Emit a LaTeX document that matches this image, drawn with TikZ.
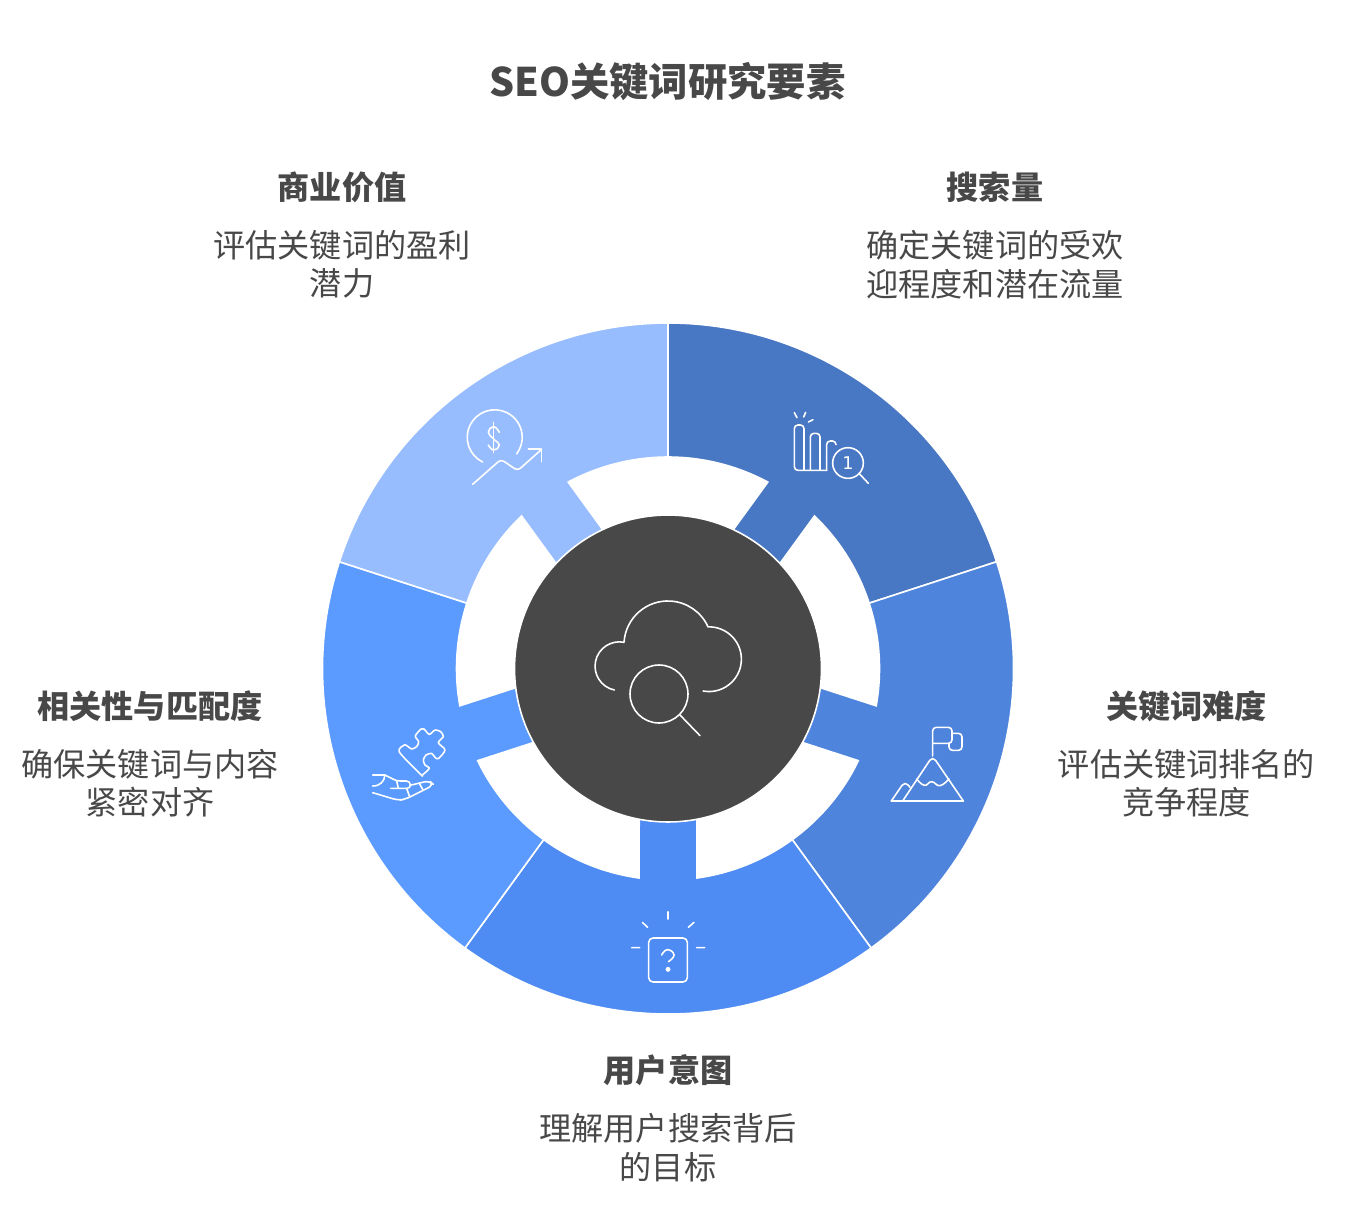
\documentclass[tikz,border=0pt]{standalone}
\usepackage{fontspec}
\setmainfont{Noto Sans CJK SC}
\newfontfamily\digitfont{DejaVu Sans}
\usetikzlibrary{calc,positioning}
\definecolor{coreGray}{HTML}{484848}
\definecolor{blueA}{HTML}{4877C3}
\definecolor{blueB}{HTML}{4F84DC}
\definecolor{blueC}{HTML}{4E8BF2}
\definecolor{blueD}{HTML}{5B9AFF}
\definecolor{blueE}{HTML}{97BDFF}

\begin{document}
\begin{tikzpicture}
    \tikzset{x=0.02cm,y=-0.02cm,
      title style/.style={text=coreGray,font=\fontsize{22.4}{26}\selectfont\bfseries},
      head style/.style={text=coreGray,font=\fontsize{18.3}{22}\selectfont\bfseries},
      desc style/.style={text=coreGray,align=center,font=\fontsize{18.3}{21.9}\selectfont},
      icon/.style={draw=white,line width=0.9,line cap=round,line join=round},
      zoomed/.style={x=0.02cm/3,y=-0.02cm/3},
      sector/.pic={
        \draw[y=0.02cm,draw=white,line width=0.9,fill=#1]
          (36:345.5) arc[start angle=36,end angle=-36,radius=6.91cm]
          -- (-36:211.5) arc[start angle=-36,end angle=-7.83,radius=4.23cm]
          -- (-10.85:153) -- (10.85:153)
          -- (7.83:211.5) arc[start angle=7.83,end angle=36,radius=4.23cm] -- cycle;
      }}
    \useasboundingbox (0,0) rectangle (1358,1204);
    \coordinate (C) at (668,668.5);
    \pic[rotate=54] at (C) {sector=blueA};
    \pic[rotate=-18] at (C) {sector=blueB};
    \pic[rotate=-90] at (C) {sector=blueC};
    \pic[rotate=-162] at (C) {sector=blueD};
    \pic[rotate=126] at (C) {sector=blueE};
    \node [circle,inner sep=0,minimum size=6.14cm,fill=coreGray,draw=white,line width=0.9] (core) at (C) {};

    \node [title style] (title) at (667.5,82) {SEO关键词研究要素};
    \node [head style] (valueHead) at (342,187.5) {商业价值};
    \node [desc style] (valueText) at (342,264.5) {评估关键词的盈利\\潜力};
    \node [head style] (volumeHead) at (995,187.5) {搜索量};
    \node [desc style] (volumeText) at (995,264.5) {确定关键词的受欢\\迎程度和潜在流量};
    \node [head style] (hardHead) at (1186.5,706.5) {关键词难度};
    \node [desc style] (hardText) at (1186.5,783) {评估关键词排名的\\竞争程度};
    \node [head style] (matchHead) at (150,706.5) {相关性与匹配度};
    \node [desc style] (matchText) at (150,783) {确保关键词与内容\\紧密对齐};
    \node [head style] (intentHead) at (668,1070.5) {用户意图};
    \node [desc style] (intentText) at (668,1147.5) {理解用户搜索背后\\的目标};

    % cloud and lens
    \begin{scope}[shift={(570,580)},zoomed]
      \draw[icon] (133,330) arc[start angle=258,end angle=79,radius=0.487cm]
        arc[start angle=176.5,end angle=24.3,radius=0.88cm]
        arc[start angle=91.8,end angle=-100.6,radius=0.647cm];
      \draw[icon] (267,342) circle[radius=0.58cm];
      \draw[icon] (330,405) -- (390,467);
    \end{scope}

    % coin and trend
    \begin{scope}[shift={(440,390)},zoomed]
      \draw[icon] (128,216) arc[start angle=244,end angle=-37,radius=0.55cm];
      \draw[icon] (161,97) -- (161,188);
      \draw[icon] plot[smooth,tension=0.9] coordinates {(178,127) (161,110) (145,127) (161,147) (178,165) (161,180) (145,165)};
      \draw[icon,rounded corners=2] (98,283) -- (183,208) -- (233,242) -- (305,178);
      \draw[icon] (265,177) -- (305,177) -- (305,215);
    \end{scope}

    % bars and lens
    \begin{scope}[shift={(660,390)},zoomed]
      \draw[icon,rounded corners=2] (500,241) -- (403,241) -- (403,105) -- (432,105) -- (432,241);
      \draw[icon,rounded corners=2] (451,241) -- (451,130) -- (480,130) -- (480,241);
      \draw[icon,rounded corners=2] (500,241) -- (500,153) -- (528,153) -- (528,163);
      \draw[icon] (403,68) -- (411,83) (437,67) -- (431,81) (459,89) -- (445,96);
      \draw[icon] (564,219) circle[radius=0.307cm];
      \draw[icon] (597,250) -- (625,280);
      \node [inner sep=0,text=white,font=\digitfont\fontsize{10}{12}\selectfont] (rankDigit) at (564,218) {1};
    \end{scope}

    % flag and mountain
    \begin{scope}[shift={(790,680)},zoomed]
      \draw[icon,rounded corners=2] (428,228) -- (428,142) -- (486,142) -- (486,190) -- (428,190);
      \draw[icon,rounded corners=2] (486,160) -- (516,160) -- (516,211) -- (477,211) -- (477,190);
      \draw[icon] (304,363) -- (520,363);
      \draw[icon,rounded corners=3] (338,363) -- (428,228) -- (520,363);
      \draw[icon,rounded corners=3] (304,363) -- (345,303) -- (360,322);
      \draw[icon] plot[smooth,tension=0.8] coordinates {(380,297) (403,316) (425,305) (450,317) (477,297)};
    \end{scope}

    % question box
    \begin{scope}[shift={(610,810)},zoomed]
      \draw[icon,rounded corners=2.5] (116,384) rectangle (232,516);
      \draw[icon] (174,305) -- (174,327) (97,337) -- (113,352) (252,337) -- (235,352) (65,413) -- (89,413) (260,413) -- (284,413);
      \draw[icon] plot[smooth,tension=0.9] coordinates {(155,435) (172,419) (192,435) (175,455)};
      \fill[white] (174,478) circle[radius=0.05cm];
    \end{scope}

    % puzzle and hand
    \begin{scope}[shift={(350,700)},zoomed]
      \draw[icon] plot[smooth cycle,tension=0.45] coordinates {(213,224) (148,156) (163,135) (172,138) (185,147) (200,140) (206,125) (196,108) (213,87) (222,87) (238,103) (255,90) (272,95) (280,110) (265,128) (285,150) (265,176) (255,172) (245,160) (228,165) (220,180) (225,195) (238,205) (218,224)};
      \draw[icon] (68,225) -- (105,225) .. controls (103,245) and (90,258) .. (68,258);
      \draw[icon,rounded corners=2] (105,225) -- (140,243) -- (180,243) -- (182,265) -- (122,265);
      \draw[icon] (140,243) -- (145,265) (170,265) -- (178,288) (208,250) -- (218,268);
      \draw[icon,rounded corners=3] (180,256) -- (238,242) -- (252,255) -- (165,298) -- (145,301) -- (68,278);
    \end{scope}
\end{tikzpicture}
\end{document}
